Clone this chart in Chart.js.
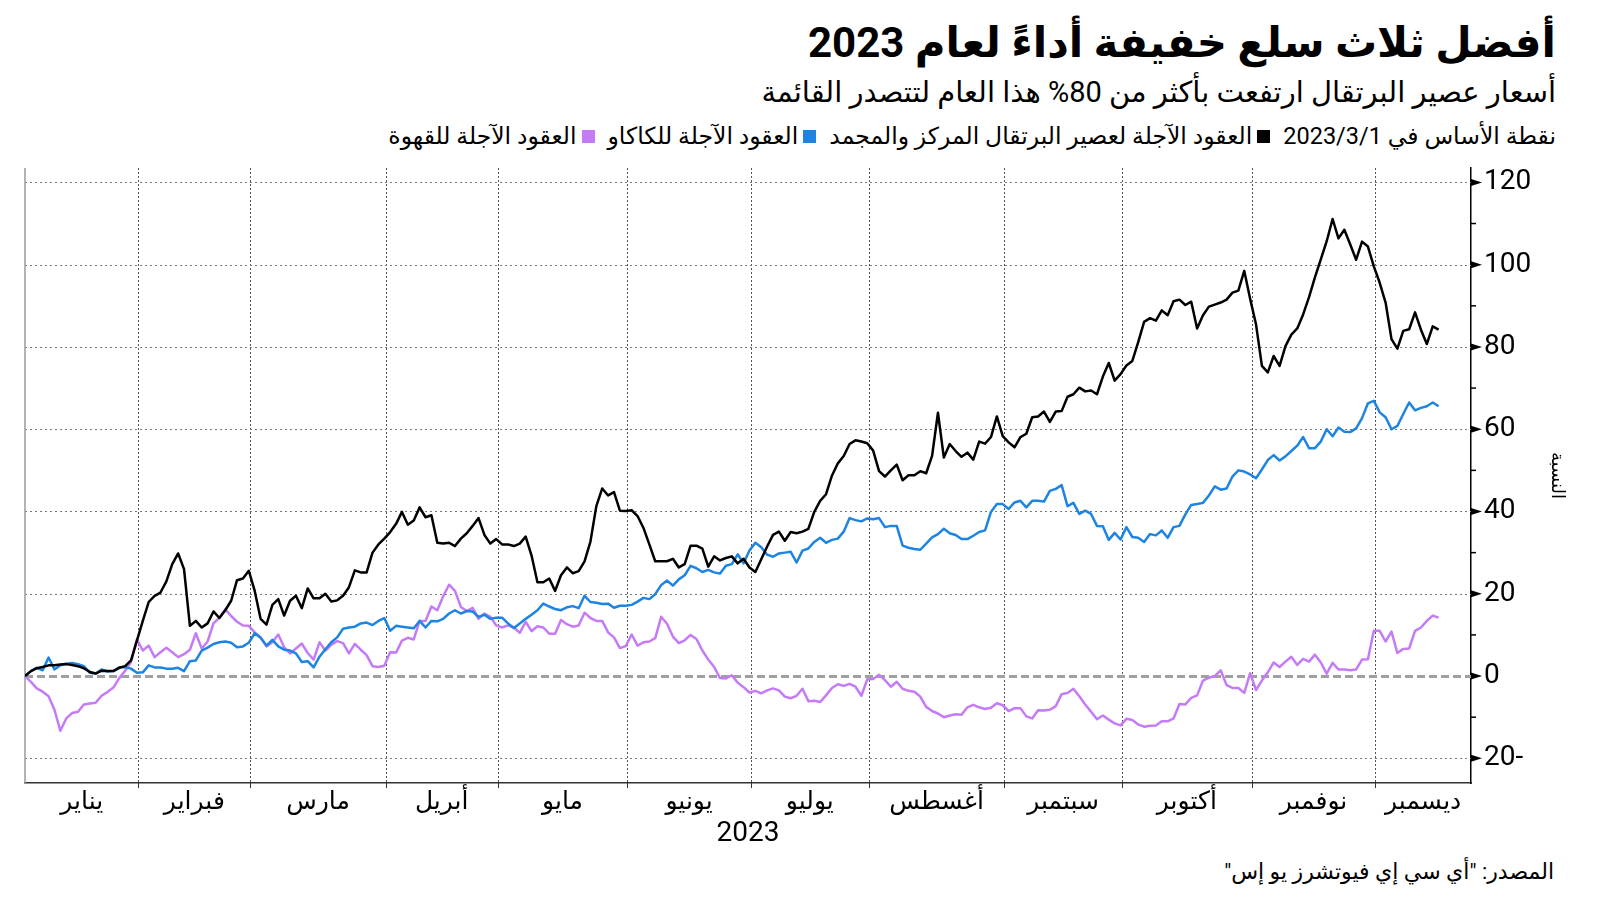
<!DOCTYPE html>
<html lang="ar">
<head>
<meta charset="utf-8">
<script src="https://cdn.jsdelivr.net/npm/chart.js@4.4.0/dist/chart.umd.min.js"></script>
<style>
  html, body { margin: 0; padding: 0; background: #fff; }
  body { width: 1600px; height: 901px; position: relative; overflow: hidden;
         font-family: Roboto, "DejaVu Sans", sans-serif; color: #000; }
  .txt { position: absolute; right: 44px; direction: rtl; white-space: nowrap; line-height: 1; }
  #title { top: 22px; font-size: 42px; font-weight: bold; }
  #subtitle { top: 78px; font-size: 29px; }
  #legend { top: 125px; font-size: 23.5px; display: flex; align-items: center; gap: 13px; }
  #legend .item { display: flex; align-items: center; gap: 5px; }
  #legend .sw { display: inline-block; width: 13px; height: 13px; }
  #source { top: 861px; right: 46px; font-size: 22px; }
  canvas { position: absolute; left: 0; top: 0; }
</style>
</head>
<body>
<div id="title" class="txt">أفضل ثلاث سلع خفيفة أداءً لعام 2023</div>
<div id="subtitle" class="txt">أسعار عصير البرتقال ارتفعت بأكثر من 80% هذا العام لتتصدر القائمة</div>
<div id="legend" class="txt">
  <span>نقطة الأساس في 2023/3/1</span>
  <span class="item"><span class="sw" style="background:#000"></span><span>العقود الآجلة لعصير البرتقال المركز والمجمد</span></span>
  <span class="item"><span class="sw" style="background:#1d84e2"></span><span>العقود الآجلة للكاكاو</span></span>
  <span class="item"><span class="sw" style="background:#c57bf5"></span><span>العقود الآجلة للقهوة</span></span>
</div>
<div id="source" class="txt">المصدر: "أي سي إي فيوتشرز يو إس"</div>
<canvas id="chart" width="1600" height="901"></canvas>
<script>
// percent change since 3 Jan 2023, one value per trading day
const orangeJuice = [
  0, 1.2, 1.9, 2.2, 2.6, 2.6, 2.8, 2.9, 2.7, 2.4, 1.9, 1.0, 0.6, 1.3, 1.2, 1.2, 2.0, 2.4, 3.8, 8.6,
  13.4, 18, 19.5, 20.3, 23, 27.2, 29.8, 26, 12.2, 13.4, 11.8, 12.8, 15.7, 14.1, 16, 18.3, 23.3, 23.7, 25.6,
  20.7, 13.9, 12.5, 17.3, 18.7, 14.7, 18.3, 19.5, 16.5, 21.3, 18.9, 18.9, 20, 18.1, 18.4, 19.5, 21.6, 25.7, 25.2, 25.2, 30, 32, 33.4,
  35, 37, 39.9, 36.8, 37.8, 41, 38.6, 39.1, 32.4, 32.2, 32.4, 31.6, 33.4, 34.7, 36.5, 38.4, 34.3, 32.2, 33.3,
  32, 32, 31.6, 32.2, 33.9, 29.3, 22.8, 22.8, 23.7, 20.7, 24.5, 26.4, 25, 25.5, 27.9, 32.7, 41.3, 45.6, 43.9, 44.7, 40.2, 40.1,
  40.3, 38.9, 36, 32, 27.9, 27.9, 27.9, 28.5, 26.4, 27.2, 31.7, 31.7, 31, 26.6, 29.1, 28.1, 28.7, 29.1, 27.4, 28.5, 26.4,
  25.3, 28.4, 31.5, 34.3, 35.1, 32.9, 35, 34.7, 35.1, 35.8, 39.9, 42.6, 44.2, 48.7, 51.7, 53.5, 56.4, 57.3, 57, 56.6,
  54.8, 49.8, 48.5, 50, 51.4, 47.6, 48.8, 48.8, 49.8, 49.3, 53.5, 64, 53.1, 56.4, 54.7, 53.3, 54.3, 52.6, 57, 56.5, 58.1, 63.1, 58.3,
  56.8, 55.6, 58.1, 58.9, 62.9, 63.1, 64.3, 61.8, 64.3, 64.4, 67.9, 68.5, 70.1, 69.2, 69.4, 68.5, 72.8, 76.1, 71.8, 73.4,
  75.5, 76.6, 81.2, 86.1, 87, 86.4, 88.9, 87.7, 91.1, 91.5, 90.2, 91, 84.5, 87.7, 89.8, 90.3, 90.8, 91.5, 93.2, 93.7, 98.5, 91.7,
  85.5, 75.4, 73.8, 77.8, 75.4, 80.2, 83, 84.5, 87.9, 92.1, 96.9, 101.3, 105.7, 111.1, 106.4, 108.5, 104.9, 101.2, 105.6, 104.4, 99.6,
  95.6, 90.8, 81.9, 79.6, 83.9, 84.3, 88.4, 84.2, 80.7, 85, 84.2
];
const cocoa = [
  0, 1.2, 2.0, 1.4, 4.5, 1.6, 2.6, 3.0, 3.2, 2.9, 2.4, 0.8, 0.6, 1.6, 1.1, 1.2, 2.1, 2.2, 1.8, 0.8,
  0.9, 2.6, 2.1, 2.1, 1.8, 1.8, 2.0, 1.2, 3.6, 3.8, 6.2, 6.9, 7.8, 8.2, 8.4, 8.1, 7.0, 7.2, 8.1,
  10.4, 9.3, 7.4, 8.8, 7.2, 6.4, 6.2, 5.5, 3.4, 3.6, 2.1, 4.7, 6.5, 8.2, 9.4, 11.5, 11.8, 12.0, 12.8, 13, 12.4, 13.4, 14.1,
  11, 12.2, 12, 11.8, 11.6, 13.4, 11.8, 13.4, 13.3, 13.9, 15.2, 16, 15.2, 15.8, 15.7, 14.4, 14.9, 13.9, 14.2,
  14.2, 12.8, 11.7, 12.8, 13.9, 14.9, 16, 17.6, 16.9, 16.3, 16, 16.7, 17, 16.5, 19.5, 18, 17.8, 17.5, 17.6, 16.6, 17.1, 17.1,
  17.3, 18.1, 19, 18.7, 19.9, 22.1, 23.2, 22, 23.5, 24.5, 26.8, 26.2, 25.3, 25.8, 25.2, 24.9, 26.8, 27.2, 29.6, 27.4, 30.5,
  32.4, 31.3, 29.5, 29, 29.8, 30, 30.2, 27.6, 30.5, 31, 32.6, 33.6, 32.4, 33.1, 33.4, 35.1, 38.4, 37.9, 37.6, 38.3,
  38.1, 38.4, 36.2, 36.5, 36.5, 31.7, 31.2, 30.9, 30.7, 32.2, 33.7, 34.5, 35.8, 34.7, 34.3, 33.3, 33.3, 34.1, 35, 35.4, 39.9, 41.8, 41.8,
  40.6, 42.2, 42.6, 41, 42.6, 42.6, 42.4, 45, 45.5, 46.4, 41.3, 42.1, 39.4, 40.2, 39.4, 36.5, 36.4, 33.1, 34.8, 33.2,
  36.2, 33.8, 33.6, 32.6, 34.5, 34.2, 35.4, 33.6, 36.2, 36.5, 39.3, 41.6, 41.8, 42.1, 43.9, 46.1, 45.3, 45.6, 48.5, 50, 49.7, 49,
  48.1, 50.2, 52.5, 53.7, 52.4, 53.4, 54.7, 56, 58.1, 55.4, 55.4, 57, 60, 58.3, 60.4, 59.4, 59.3, 60.2, 62.7, 66.3, 66.9,
  64.1, 62.9, 60, 60.8, 63.7, 66.5, 64.6, 65.2, 65.6, 66.5, 65.6
];
const coffee = [
  0, -1.4, -3.0, -3.8, -4.9, -8.2, -13.3, -10.3, -9, -8.7, -6.9, -6.7, -6.5, -4.8, -3.9, -2.8, -0.5, 1.3, 3.4, 8.9,
  6.2, 7.4, 4.6, 5.8, 6.9, 5.8, 4.6, 5.3, 6.4, 10.4, 6.7, 8.4, 12.8, 14.2, 16.2, 14.6, 13.2, 12.3, 12.2,
  10.6, 9.4, 7.2, 8.2, 10.1, 7, 5.5, 6.7, 7.9, 5.6, 4, 8.2, 6.2, 7.6, 8.5, 8, 5.5, 7.8, 6.4, 5.1, 2.4, 2.2, 2.5,
  5.8, 5.7, 8.6, 9.3, 8.9, 13.4, 13.4, 16.9, 16, 19.4, 22.2, 20.7, 16.8, 15.8, 16.6, 13.9, 15.2, 14.4, 12.3,
  11.8, 12.3, 11.8, 10.5, 13.2, 10.9, 12.1, 11.8, 10.3, 10.3, 13.6, 12.6, 12, 12.3, 15.4, 14.1, 13.4, 13.4, 10.6, 9.4, 6.8, 7.3,
  10.1, 7.4, 8.2, 8.4, 9.2, 14.4, 12.7, 9.6, 8, 8.7, 10, 9, 6.2, 4, 2.2, -0.5, -0.6, 0.2, -1.6, -2.7, -4,
  -3.6, -4.2, -3.5, -3, -3.5, -5, -5.4, -4.8, -3.1, -6.1, -6, -6.3, -4.7, -2.9, -2, -2.4, -1.9, -2.6, -4.8, -0.8,
  -0.7, 0.3, -1, -2.6, -1.4, -3.1, -3.6, -3.8, -5, -7.5, -8.5, -9.1, -10, -9.6, -9.3, -9.4, -7.6, -7, -7.6, -8, -7.7, -6.6, -7.1,
  -8.5, -7.8, -7.8, -9.8, -10.3, -8.3, -8.4, -8.2, -7.3, -4.4, -4.1, -3.1, -4.9, -6.9, -8.7, -10.5, -9.6, -10.6, -11.5, -12,
  -10.4, -10.7, -11.8, -12.3, -12.1, -12, -11, -11, -10.3, -6.8, -6.9, -5.3, -4.7, -1.1, -0.4, 0, 1.4, -2.2, -2.9, -2.9, -4.1, 0.7,
  -3.4, -1.1, 0.9, 3.3, 2.2, 3.5, 4.7, 2.7, 4.2, 3.5, 5.2, 3.3, 0.6, 3.2, 1.6, 1.6, 1.4, 1.6, 4, 4.1, 11,
  11, 8.4, 10.8, 5.6, 6.6, 6.7, 11, 11.8, 13.4, 14.7, 14.2
];

const seriesNames = ['العقود الآجلة لعصير البرتقال المركز والمجمد', 'العقود الآجلة للكاكاو', 'العقود الآجلة للقهوة'];
const seriesColors = ['#000000', '#1d84e2', '#c57bf5'];

const monthNames = ['يناير', 'فبراير', 'مارس', 'أبريل', 'مايو', 'يونيو', 'يوليو', 'أغسطس', 'سبتمبر', 'أكتوبر', 'نوفمبر', 'ديسمبر'];
// index of first trading day of each month
const monthStart = [0, 20, 39, 62, 81, 103, 124, 144, 167, 187, 209, 230];
const xMax = 245.5;

const yTickValues = [-20, -10, 0, 10, 20, 30, 40, 50, 60, 70, 80, 90, 100, 110, 120];
const yLabelValues = [-20, 0, 20, 40, 60, 80, 100, 120];
const yTickLabels = ['20-', '0', '20', '40', '60', '80', '100', '120'];

const bounds = [0].concat(monthStart.slice(1).map(d => d - 0.75), [xMax]);
const monthMid = monthNames.map((m, i) => (bounds[i] + bounds[i + 1]) / 2);

const refGrid = {
  id: 'refGrid',
  beforeDatasetsDraw(chart) {
    const { ctx, chartArea: a, scales: { x, y } } = chart;
    ctx.save();
    ctx.strokeStyle = '#555';
    ctx.lineWidth = 1;
    ctx.setLineDash([2, 2]);
    bounds.slice(1, -1).forEach(v => {
      const px = Math.round(x.getPixelForValue(v)) + 0.5;
      ctx.beginPath(); ctx.moveTo(px, a.top); ctx.lineTo(px, a.bottom); ctx.stroke();
    });
    yLabelValues.forEach(v => {
      const py = Math.round(y.getPixelForValue(v)) + 0.5;
      ctx.beginPath();
      if (v === 0) { ctx.setLineDash([8, 4]); ctx.lineWidth = 3; ctx.strokeStyle = '#a0a0a0'; }
      else { ctx.setLineDash([2, 3]); ctx.lineWidth = 1; ctx.strokeStyle = '#7a7a7a'; }
      ctx.moveTo(a.left, py); ctx.lineTo(a.right, py); ctx.stroke();
    });
    ctx.setLineDash([]);
    ctx.strokeStyle = '#9a9a9a';
    ctx.lineWidth = 1.5;
    ctx.beginPath(); ctx.moveTo(a.left, a.top); ctx.lineTo(a.left, a.bottom); ctx.stroke();
    ctx.restore();
  },
  afterDraw(chart) {
    const { ctx, chartArea: a, scales: { x, y } } = chart;
    ctx.save();
    ctx.fillStyle = '#000';
    ctx.strokeStyle = '#000';
    ctx.lineWidth = 1.5;
    yTickValues.forEach(v => {
      const py = y.getPixelForValue(v);
      ctx.beginPath();
      if (v % 20 === 0) {
        ctx.moveTo(a.right, py - 3.5); ctx.lineTo(a.right + 11, py); ctx.lineTo(a.right, py + 3.5);
        ctx.closePath(); ctx.fill();
      } else {
        ctx.moveTo(a.right, py); ctx.lineTo(a.right + 5, py); ctx.stroke();
      }
    });
    ctx.strokeStyle = '#333';
    ctx.lineWidth = 1;
    bounds.slice(1, -1).forEach(v => {
      const px = Math.round(x.getPixelForValue(v)) + 0.5;
      ctx.beginPath(); ctx.moveTo(px, a.bottom); ctx.lineTo(px, a.bottom + 5); ctx.stroke();
    });
    ctx.restore();
  }
};

const makeSet = (values, i) => ({
  label: seriesNames[i],
  data: values.map((v, d) => ({ x: d, y: v })),
  borderColor: seriesColors[i],
  borderWidth: 2.5,
  pointRadius: 0,
  tension: 0,
  borderJoinStyle: 'round',
  order: i
});

new Chart(document.getElementById('chart').getContext('2d'), {
  type: 'line',
  data: {
    datasets: [makeSet(orangeJuice, 0), makeSet(cocoa, 1), makeSet(coffee, 2)]
  },
  options: {
    responsive: false,
    animation: false,
    layout: { padding: { left: 25, top: 168, right: 33, bottom: 0 } },
    plugins: { legend: { display: false }, tooltip: { enabled: false } },
    scales: {
      x: {
        type: 'linear',
        min: 0,
        max: xMax,
        afterBuildTicks: s => { s.ticks = monthMid.map(v => ({ value: v })); },
        afterFit: s => { s.height = 118; },
        grid: { display: false, drawTicks: false },
        border: { display: true, color: '#333', width: 1.5 },
        ticks: {
          autoSkip: false, maxRotation: 0, padding: 5, color: '#000',
          font: { family: 'Roboto, "DejaVu Sans", sans-serif', size: 25 },
          callback: (v, i) => monthNames[i]
        },
        title: {
          display: true, text: '2023', color: '#000',
          font: { family: 'Roboto, "DejaVu Sans", sans-serif', size: 28 },
          padding: { top: 0, bottom: 50 }
        }
      },
      y: {
        position: 'right',
        min: -26,
        max: 123.5,
        afterBuildTicks: s => { s.ticks = yTickValues.map(v => ({ value: v })); },
        afterFit: s => { s.width = 96; },
        grid: { display: false, drawTicks: false },
        border: { display: true, color: '#000', width: 1.5 },
        ticks: {
          padding: 13, color: '#000',
          font: { family: 'Roboto, "DejaVu Sans", sans-serif', size: 28 },
          callback: v => { const k = yLabelValues.indexOf(v); return k >= 0 ? yTickLabels[k] : ''; }
        },
        title: {
          display: true, text: 'النسبة', color: '#000',
          font: { family: 'Roboto, "DejaVu Sans", sans-serif', size: 18 },
          padding: 0
        }
      }
    }
  },
  plugins: [refGrid]
});
</script>
</body>
</html>
